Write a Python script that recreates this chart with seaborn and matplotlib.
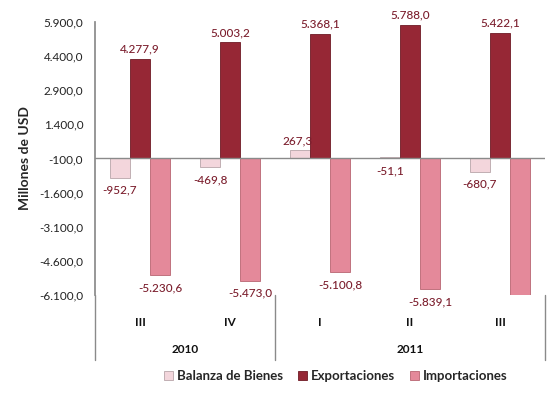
import numpy as np
import pandas as pd
import matplotlib
matplotlib.use("Agg")
import matplotlib.pyplot as plt
import matplotlib.transforms as mtransforms
from matplotlib.patches import Patch
import seaborn as sns

# Datos (millones de USD)
trimestres = ["III", "IV", "I", "II", "III"]
anios = ["2010", "2010", "2011", "2011", "2011"]
balanza = [-952.7, -469.8, 267.3, -51.1, -680.7]
exportaciones = [4277.9, 5003.2, 5368.1, 5788.0, 5422.1]
importaciones = [-5230.6, -5473.0, -5100.8, -5839.1, -6102.8]
mostrar_etiqueta_imp = [True, True, True, True, False]

series = ["Balanza de Bienes", "Exportaciones", "Importaciones"]
colores = ["#f3d6dc", "#962735", "#e4899a"]
bordes = ["#b8a5a9", "#6e1a25", "#b86572"]
color_etiqueta = "#7c1f2e"

base = -100.0  # el eje horizontal cruza en -100

periodos = [f"{a}-{t}" for a, t in zip(anios, trimestres)]
df = pd.DataFrame({
    "periodo": periodos * 3,
    "serie": np.repeat(series, len(periodos)),
    "valor": balanza + exportaciones + importaciones,
})
df["altura"] = df["valor"] - base


def fmt_es(v):
    s = f"{v:,.1f}"
    return s.replace(",", "X").replace(".", ",").replace("X", ".")


sns.set_theme(style="white")
plt.rcParams["font.family"] = ["Lato", "DejaVu Sans"]

fig = plt.figure(figsize=(5.55, 3.96), dpi=100)
ax = fig.add_axes([95 / 555, 1 - 295 / 396, 450 / 555, 273 / 396])

sns.barplot(data=df, x="periodo", y="altura", hue="serie", order=periodos,
            hue_order=series, palette=colores, saturation=1, width=0.667, gap=0,
            legend=False, ax=ax, zorder=3)

for cont, borde in zip(ax.containers, bordes):
    for bar in cont:
        bar.set_edgecolor(borde)
        bar.set_linewidth(0.6)

ax.set_ylim(-6000, 6000)
ticks = np.arange(-6000, 6001, 1500)
ax.set_yticks(ticks)
ax.set_yticklabels([fmt_es(t + base) for t in ticks], fontsize=8.5, color="#222222")
ax.tick_params(axis="y", length=0, pad=8.5)
ax.set_xlim(-0.5, len(periodos) - 0.5)
ax.set_xticks(range(len(periodos)))
ax.set_xticklabels(trimestres, fontsize=8.5, fontweight="bold", color="#111111")
ax.tick_params(axis="x", length=0, pad=16)
ax.set_xlabel("")
ax.set_ylabel("Millones de USD", fontsize=10, fontweight="bold", labelpad=6)

for s in ["top", "right", "bottom"]:
    ax.spines[s].set_visible(False)
ax.spines["left"].set_color("#8a8a8a")
ax.axhline(0, color="#8a8a8a", lw=1, zorder=4)

# lineas divisorias de anios y etiquetas de anio
trans = mtransforms.blended_transform_factory(ax.transData, ax.transAxes)
for xs in [-0.5, 1.5, 4.5]:
    ax.plot([xs, xs], [0, -0.238], transform=trans, color="#8a8a8a",
            lw=1, clip_on=False)
for a in dict.fromkeys(anios):
    idx = [i for i, v in enumerate(anios) if v == a]
    ax.text(np.mean(idx), -0.198, a, transform=trans, ha="center", va="center",
            fontsize=8.5, fontweight="bold", color="#111111")

# etiquetas de datos
for k, (cont, serie) in enumerate(zip(ax.containers, series)):
    vals = df[df["serie"] == serie]["valor"].tolist()
    for i, (bar, v) in enumerate(zip(cont, vals)):
        xc = bar.get_x() + bar.get_width() / 2
        if serie == "Importaciones" and not mostrar_etiqueta_imp[i]:
            continue
        if v > 0:
            y, dy = v - base, 7
        else:
            y, dy = min(v - base, 0), -9
        if serie == "Balanza de Bienes" and v > 0:
            xc -= 0.03
        ax.annotate(fmt_es(v), (xc, y), xytext=(0, dy), textcoords="offset points",
                    ha="center", va="center", fontsize=8.5, color=color_etiqueta,
                    fontweight="medium", zorder=5)

handles = [Patch(facecolor=c, edgecolor=b, lw=0.6) for c, b in zip(colores, bordes)]
fig.legend(handles, series, loc="center", bbox_to_anchor=(0.605, 0.05), ncol=3,
           frameon=False, handlelength=0.7, handleheight=0.7,
           handletextpad=0.3, columnspacing=1.1,
           prop={"weight": "bold", "size": 9.5})

fig.savefig("out.png", dpi=100)
